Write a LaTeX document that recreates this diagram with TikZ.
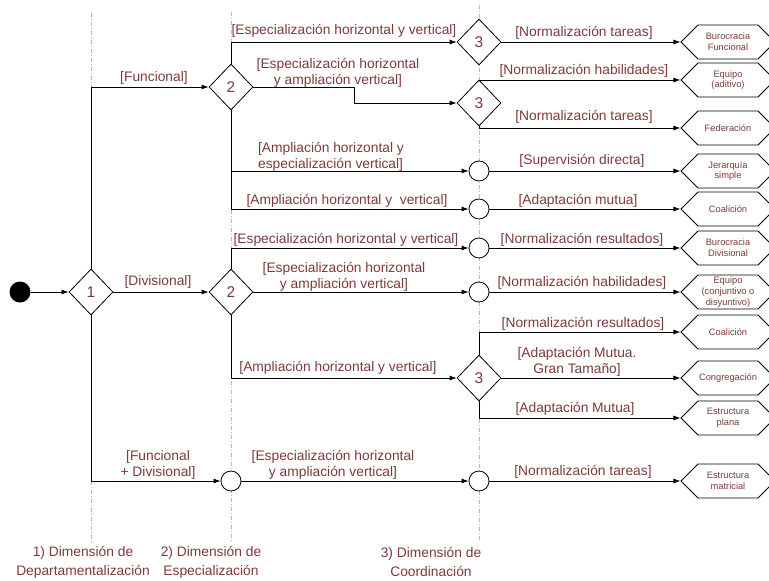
\documentclass[tikz,border=0pt]{standalone}
\usepackage{fontspec}
\setmainfont{Liberation Sans}
\usepackage{xcolor}
\usetikzlibrary{shapes.geometric,shapes.symbols,arrows.meta}
\definecolor{texto}{RGB}{125,58,58}

\begin{document}
\begin{tikzpicture}[x=1pt, y=-1pt,
	flecha/.style={-{Latex[length=7pt,width=5pt]}, line width=0.8pt},
	rombo/.style={diamond, draw, line width=0.8pt, fill=white, minimum width=44pt, minimum height=46pt, inner sep=0pt, text=texto, font=\fontsize{15.5}{15.5}\selectfont},
	circulo/.style={circle, draw, line width=0.8pt, fill=white, minimum size=20pt, inner sep=0pt},
	hexa/.style={signal, signal to=west and east, signal pointer angle=90, draw, line width=0.8pt, fill=white, minimum width=94pt, minimum height=34pt, inner sep=0pt, align=center, text=texto, font=\fontsize{9.3}{10.8}\selectfont},
	etiqueta/.style={text=texto, align=center, inner sep=0pt, font=\fontsize{13.8}{16}\selectfont},
	guia/.style={gray!55, line width=0.6pt, dash pattern=on 4pt off 2pt on 1pt off 2pt}]
	\useasboundingbox (0,0) rectangle (769,581);
	\def\xa{91}
	\def\xb{231}
	\def\xc{479}
	\def\xh{728}
	
	% lineas guia
	\draw[guia] (\xa,13) -- (\xa,542);
	\draw[guia] (\xb,12) -- (\xb,542);
	\draw[guia] (\xc,5) -- (\xc,542);
	
	% decisiones
	\node[circle, fill=black, minimum size=21pt, inner sep=0pt] (inicio) at (20,292) {};
	\node[rombo] (d1) at (\xa,292) {1};
	\node[rombo] (d2f) at (\xb,87) {2};
	\node[rombo] (d2d) at (\xb,292) {2};
	\node[circulo] (c5) at (\xb,481) {};
	\node[rombo] (d3a) at (\xc,42) {3};
	\node[rombo] (d3b) at (\xc,103) {3};
	\node[circulo] (c1) at (\xc,171) {};
	\node[circulo] (c2) at (\xc,209) {};
	\node[circulo] (c3) at (\xc,248) {};
	\node[circulo] (c4) at (\xc,292) {};
	\node[rombo] (d3c) at (\xc,378) {3};
	\node[circulo] (c6) at (\xc,481) {};
	
	% estructuras resultantes
	\node[hexa] (h1) at (\xh,42) {Burocracia\\Funcional};
	\node[hexa] (h2) at (\xh,80) {Equipo\\(aditivo)};
	\node[hexa] (h3) at (\xh,128) {Federación};
	\node[hexa] (h4) at (\xh,171) {Jerarquía\\simple};
	\node[hexa] (h5) at (\xh,209) {Coalición};
	\node[hexa] (h6) at (\xh,248) {Burocracia\\Divisional};
	\node[hexa] (h7) at (\xh,292) {Equipo\\(conjuntivo o\\disyuntivo)};
	\node[hexa] (h8) at (\xh,332) {Coalición};
	\node[hexa] (h9) at (\xh,378) {Congregación};
	\node[hexa] (h10) at (\xh,418) {Estructura\\plana};
	\node[hexa] (h11) at (\xh,481) {Estructura\\matricial};
	
	% dimension 1
	\coordinate (codo) at (354,0);
	\draw[flecha] (inicio) -- (d1);
	\draw[flecha] (d1.north) |- (d2f.west);
	\draw[flecha] (d1.east) -- (d2d.west);
	\draw[flecha] (d1.south) |- (c5.west);
	
	% dimension 2
	\draw[flecha] (d2f.north) |- (d3a.west);
	\draw[flecha] (d2f.east) -- (d2f.east -| codo) |- (d3b.west);
	\draw[flecha] (d2f.south) |- (c1.west);
	\draw[flecha] (d2f.south) |- (c2.west);
	\draw[flecha] (d2d.north) |- (c3.west);
	\draw[flecha] (d2d.east) -- (c4.west);
	\draw[flecha] (d2d.south) |- (d3c.west);
	\draw[flecha] (c5.east) -- (c6.west);
	
	% dimension 3
	\draw[flecha] (d3a.east) -- (h1.west);
	\draw[flecha] (d3b.north) |- (h2.west);
	\draw[flecha] (d3b.south) |- (h3.west);
	\draw[flecha] (c1.east) -- (h4.west);
	\draw[flecha] (c2.east) -- (h5.west);
	\draw[flecha] (c3.east) -- (h6.west);
	\draw[flecha] (c4.east) -- (h7.west);
	\draw[flecha] (d3c.north) |- (h8.west);
	\draw[flecha] (d3c.east) -- (h9.west);
	\draw[flecha] (d3c.south) |- (h10.west);
	\draw[flecha] (c6.east) -- (h11.west);
	
	% etiquetas
	\node[etiqueta] (eFun) at (154,78) {[Funcional]};
	\node[etiqueta] (eDiv) at (158,282) {[Divisional]};
	\node[etiqueta] (eFD) at (158,465) {[Funcional\\+ Divisional]};
	\node[etiqueta] (eEHV1) at (344,31) {[Especialización horizontal y vertical]};
	\node[etiqueta] (eEHA1) at (338,73) {[Especialización horizontal\\y ampliación vertical]};
	\node[etiqueta, align=left] (eAHE) at (331,157) {[Ampliación horizontal y\\especialización vertical]};
	\node[etiqueta] (eAHV1) at (347,201) {[Ampliación horizontal y\ \ vertical]};
	\node[etiqueta] (eEHV2) at (346,240) {[Especialización horizontal y vertical]};
	\node[etiqueta] (eEHA2) at (344,277) {[Especialización horizontal\\y ampliación vertical]};
	\node[etiqueta] (eAHV2) at (338,368) {[Ampliación horizontal y vertical]};
	\node[etiqueta] (eEHA3) at (333,465) {[Especialización horizontal\\y ampliación vertical]};
	\node[etiqueta] (n1) at (584,33) {[Normalización tareas]};
	\node[etiqueta] (n2) at (584,71) {[Normalización habilidades]};
	\node[etiqueta] (n3) at (584,117) {[Normalización tareas]};
	\node[etiqueta] (n4) at (582,161) {[Supervisión directa]};
	\node[etiqueta] (n5) at (578,201) {[Adaptación mutua]};
	\node[etiqueta] (n6) at (582,240) {[Normalización resultados]};
	\node[etiqueta] (n7) at (582,283) {[Normalización habilidades]};
	\node[etiqueta] (n8) at (583,324) {[Normalización resultados]};
	\node[etiqueta] (n9) at (577,362) {[Adaptación Mutua.\\Gran Tamaño]};
	\node[etiqueta] (n10) at (575,409) {[Adaptación Mutua]};
	\node[etiqueta] (n11) at (583,472) {[Normalización tareas]};
	
	% dimensiones
	\node[etiqueta, font=\fontsize{13.8}{19}\selectfont] (dim1) at (83,562) {1) Dimensión de\\Departamentalización};
	\node[etiqueta, font=\fontsize{13.8}{19}\selectfont] (dim2) at (211,562) {2) Dimensión de\\Especialización};
	\node[etiqueta, font=\fontsize{13.8}{19}\selectfont] (dim3) at (431,562) {3) Dimensión de\\Coordinación};
\end{tikzpicture}
\end{document}
